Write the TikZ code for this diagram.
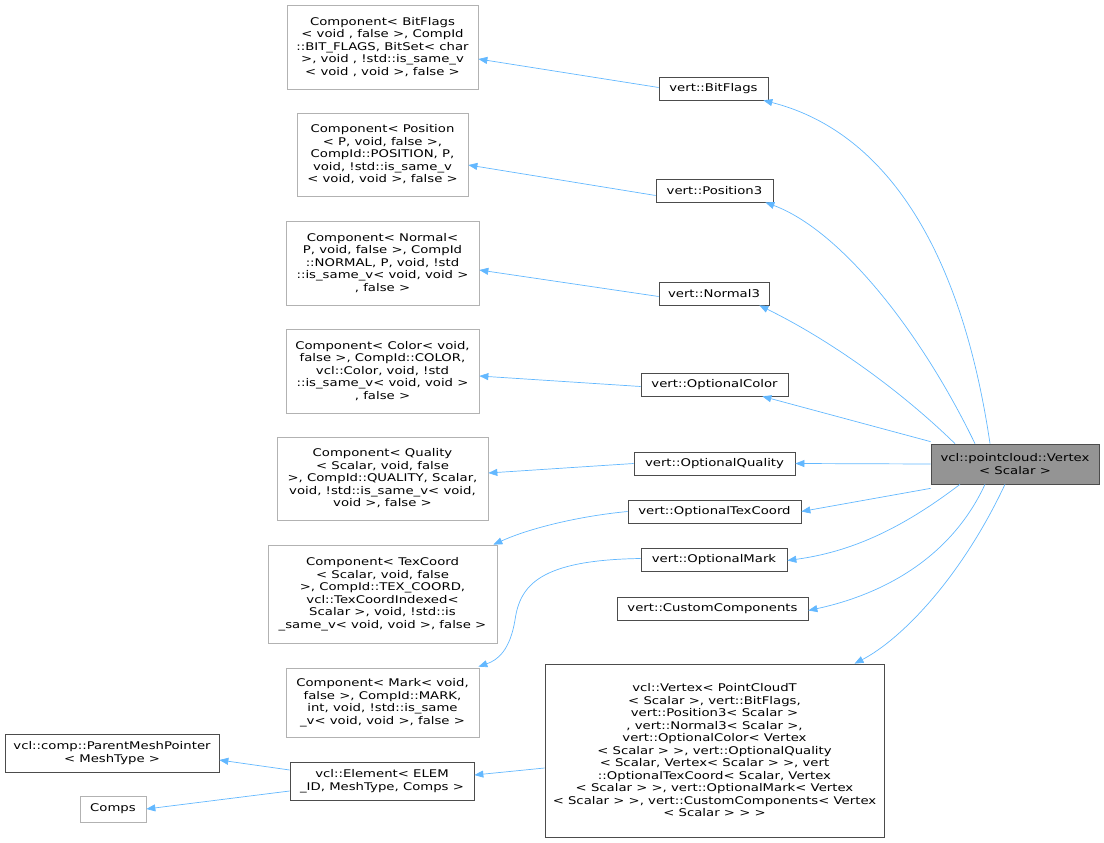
\documentclass[tikz,border=0pt]{standalone}
\usepackage{fontspec}
\setmainfont{DejaVu Sans}[FakeStretch=1.25]
\usetikzlibrary{arrows.meta}
\begin{document}
\begin{tikzpicture}[x=1pt,y=-1pt,
  box/.style={draw=black!70,line width=0.7pt,inner sep=0pt,align=center,font=\fontsize{10.6}{12.5}\selectfont},
  gbox/.style={box,draw=black!30},
  edge/.style={draw={rgb,255:red,99;green,184;blue,255},line width=0.7pt,
    -{Triangle[length=9pt,width=7pt,fill={rgb,255:red,99;green,184;blue,255}]}}]
\useasboundingbox (0,0) rectangle (1104,843);
\newcommand{\bx}[7]{\node[#1,minimum width=#4,minimum height=#5] (#2) at (#3) {#6};}
\bx{gbox}{c1}{382.5,47}{191}{84}{Component< BitFlags\\< void , false  >, CompId\\::BIT\_FLAGS, BitSet< char\\ >, void , !std::is\_same\_v\\< void , void >, false  >}{}
\bx{box}{bf}{713.5,88.5}{109}{23}{vert::BitFlags}{}
\bx{gbox}{c2}{382.5,154.5}{171}{83}{Component< Position\\< P, void, false >,\\ CompId::POSITION, P,\\ void, !std::is\_same\_v\\< void, void >, false >}{}
\bx{box}{p3}{714.5,190.5}{117}{23}{vert::Position3}{}
\bx{gbox}{c3}{382.5,263}{193}{84}{Component< Normal<\\ P, void, false >, CompId\\::NORMAL, P, void, !std\\::is\_same\_v< void, void >\\, false >}{}
\bx{box}{n3}{714,293.5}{110}{23}{vert::Normal3}{}
\bx{gbox}{c4}{382.5,371}{193}{84}{Component< Color< void,\\ false >, CompId::COLOR,\\ vcl::Color, void, !std\\::is\_same\_v< void, void >\\, false >}{}
\bx{box}{oc}{714.5,384.5}{147}{23}{vert::OptionalColor}{}
\bx{gbox}{c5}{382.5,478.5}{211}{83}{Component< Quality\\< Scalar, void, false\\ >, CompId::QUALITY, Scalar,\\ void, !std::is\_same\_v< void,\\ void >, false >}{}
\bx{box}{oq}{714.5,463.5}{161}{23}{vert::OptionalQuality}{}
\bx{box}{ot}{714.5,511.5}{173}{23}{vert::OptionalTexCoord}{}
\bx{gbox}{c6}{382.5,594}{229}{98}{Component< TexCoord\\< Scalar, void, false\\ >, CompId::TEX\_COORD,\\ vcl::TexCoordIndexed<\\ Scalar >, void, !std::is\\\_same\_v< void, void >, false >}{}
\bx{box}{om}{714,559.5}{146}{23}{vert::OptionalMark}{}
\bx{box}{cc}{712.5,608.5}{191}{23}{vert::CustomComponents}{}
\bx{gbox}{c7}{382.5,702.5}{193}{69}{Component< Mark< void,\\ false >, CompId::MARK,\\ int, void, !std::is\_same\\\_v< void, void >, false >}{}
\bx{box}{vv}{714.5,750.5}{339}{173}{vcl::Vertex< PointCloudT\\< Scalar >, vert::BitFlags,\\ vert::Position3< Scalar >\\, vert::Normal3< Scalar >,\\ vert::OptionalColor< Vertex\\< Scalar > >, vert::OptionalQuality\\< Scalar, Vertex< Scalar > >, vert\\::OptionalTexCoord< Scalar, Vertex\\< Scalar > >, vert::OptionalMark< Vertex\\< Scalar > >, vert::CustomComponents< Vertex\\< Scalar > > >}{}
\node[box,fill=black!42,minimum width=168,minimum height=40] (pv) at (1015,464) {vcl::pointcloud::Vertex\\< Scalar >};
\bx{box}{pm}{112,753}{214}{38}{vcl::comp::ParentMeshPointer\\< MeshType >}{}
\bx{gbox}{cp}{113,809}{66}{26}{Comps}{}
\bx{box}{el}{382,781}{184}{38}{vcl::Element< ELEM\\\_ID, MeshType, Comps >}{}
% left edges
\draw[edge] ([yshift=1]bf.west) -- (c1.east|-0,59);
\draw[edge] ([yshift=-5]p3.west) -- (c2.east|-0,165);
\draw[edge] ([yshift=-3]n3.west) -- (c3.east|-0,270);
\draw[edge] ([yshift=-2]oc.west) -- (c4.east|-0,376);
\draw[edge] (oq.west) -- (c5.east|-0,473);
\draw[edge] (ot.west) .. controls (580,516) and (530,528) .. ([xshift=-4]c6.north east);
\draw[edge] ([yshift=1]om.west) .. controls (540,560) and (520,585) .. (515,620) .. controls (510,650) and (498,660) .. ([xshift=-1,yshift=1]c7.north east);
\draw[edge] (el.west|-0,770) -- (pm.east|-0,760);
\draw[edge] (el.west|-0,791) -- (cp.east);
\draw[edge] (vv.west|-0,768) -- (el.east|-0,775);
% right edges
\draw[edge] ([xshift=-25]pv.north) .. controls (960,240) and (880,130) .. ([xshift=-5]bf.south east);
\draw[edge] ([xshift=-40]pv.north) .. controls (920,330) and (840,230) .. ([xshift=-8]p3.south east);
\draw[edge] ([xshift=-60]pv.north) .. controls (900,390) and (830,340) .. ([xshift=-10]n3.south east);
\draw[edge] ([yshift=2]pv.north west) -- ([xshift=-26]oc.south east);
\draw[edge] (pv.west) -- (oq.east);
\draw[edge] ([yshift=-4]pv.south west) -- (ot.east);
\draw[edge] ([xshift=-55]pv.south) .. controls (900,530) and (850,552) .. ([yshift=-1]om.east);
\draw[edge] ([xshift=-30]pv.south) .. controls (950,560) and (880,595) .. ([yshift=-2]cc.east);
\draw[edge] ([xshift=-10]pv.south) .. controls (960,580) and (900,640) .. ([xshift=140]vv.north);
\end{tikzpicture}
\end{document}
